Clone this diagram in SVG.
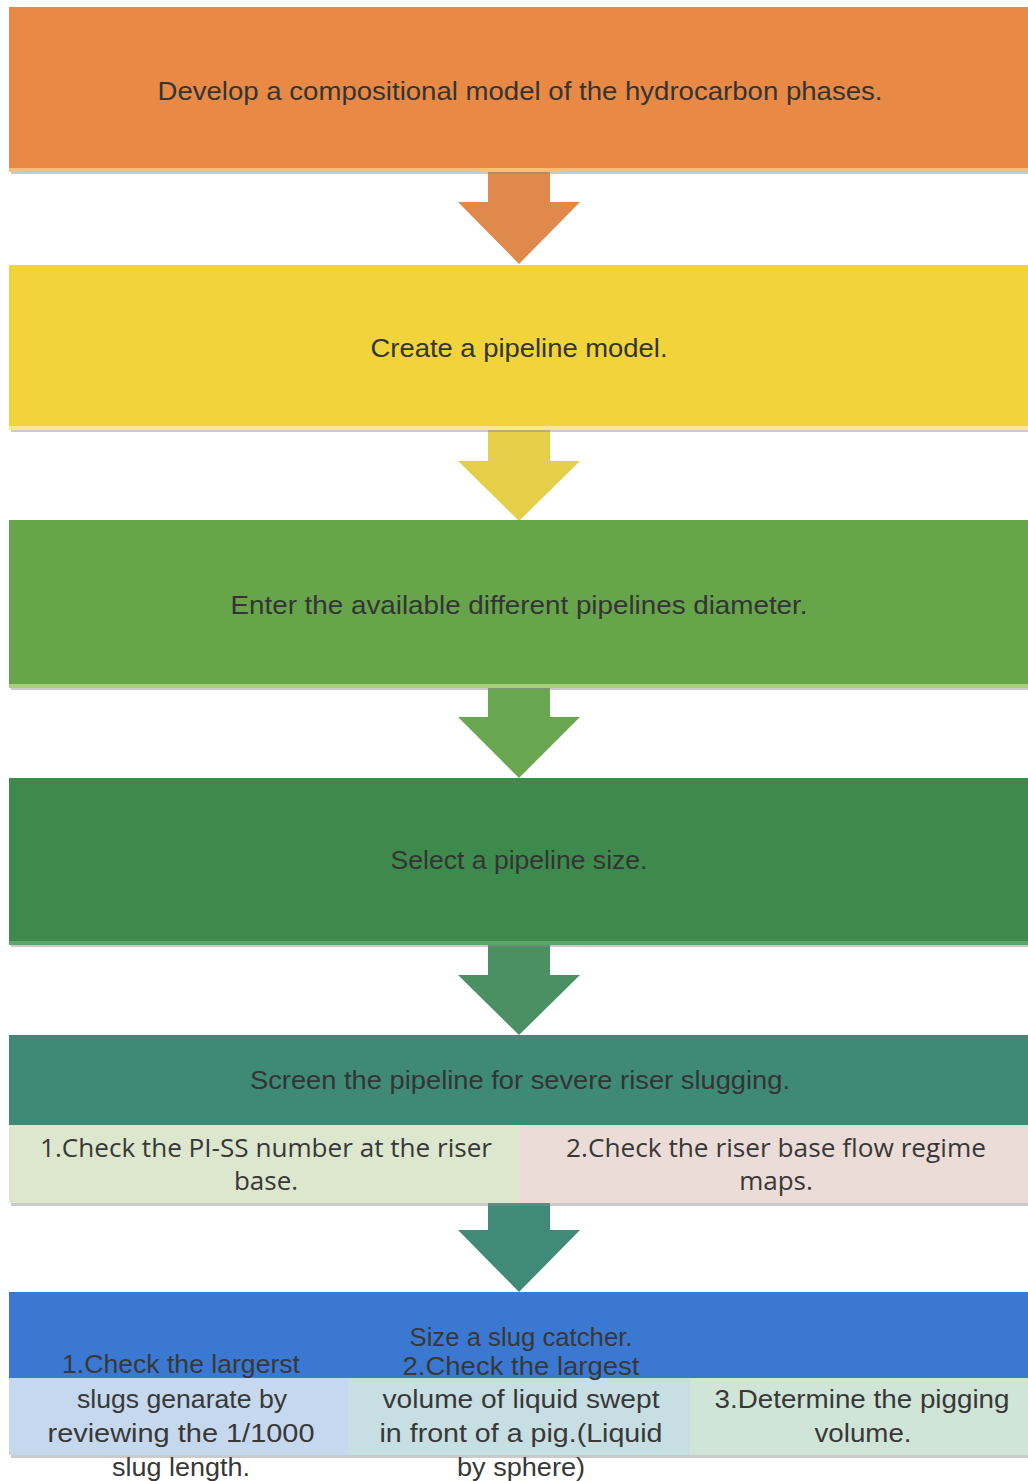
<svg xmlns="http://www.w3.org/2000/svg" width="1028" height="1481" viewBox="0 0 1028 1481">
<defs>
<style>
.t{font-family:"Liberation Sans","Noto Sans",Arial,sans-serif;font-size:25px;fill:#343434;text-anchor:middle}
.s{font-family:"Open Sans","Liberation Sans",Arial,sans-serif;font-size:26px;fill:#383838;text-anchor:middle}
.b{font-family:"Liberation Sans","Noto Sans",Arial,sans-serif;font-size:25px;fill:#383838;text-anchor:middle}
.sh{fill:#8a8a8a;opacity:0.45}
</style>
</defs>
<rect width="1028" height="1481" fill="#ffffff"/>

<g id="connectors">
<path d="M488,166 H550 V202 H580 L519,264 L458,202 H488 Z" fill="#e0894c"/>
<path d="M488,424 H550 V461 H580 L519,521 L458,461 H488 Z" fill="#e6cf48"/>
<path d="M488,682 H550 V717 H580 L519,778 L458,717 H488 Z" fill="#68a650"/>
<path d="M488,940 H550 V975 H580 L519,1035 L458,975 H488 Z" fill="#4b9062"/>
<path d="M488,1203 H550 V1230 H580 L519,1292 L458,1230 H488 Z" fill="#3f8a78"/>
</g>

<g id="n1">
<rect x="9" y="7" width="1019" height="165" fill="#e88a45"/>
<rect x="9" y="168" width="1019" height="4" fill="#f6c07a"/>
<rect x="11" y="172" width="1017" height="2" class="sh"/>
<text class="t" x="520" y="100" textLength="725" lengthAdjust="spacingAndGlyphs">Develop a compositional model of the hydrocarbon phases.</text>
</g>

<g id="n2">
<rect x="9" y="265" width="1019" height="165" fill="#f0d43a"/>
<rect x="9" y="426" width="1019" height="4" fill="#f8ea8a"/>
<rect x="11" y="430" width="1017" height="2" class="sh"/>
<text class="t" x="519" y="357" textLength="297" lengthAdjust="spacingAndGlyphs">Create a pipeline model.</text>
</g>

<g id="n3">
<rect x="9" y="520" width="1019" height="168" fill="#67a54b"/>
<rect x="9" y="684" width="1019" height="4" fill="#a8cf7a"/>
<rect x="11" y="688" width="1017" height="2" class="sh"/>
<text class="t" x="519" y="614" textLength="577" lengthAdjust="spacingAndGlyphs">Enter the available different pipelines diameter.</text>
</g>

<g id="n4">
<rect x="9" y="778" width="1019" height="167" fill="#3e8a4c"/>
<rect x="9" y="941" width="1019" height="4" fill="#5fa56a"/>
<rect x="11" y="945" width="1017" height="2" class="sh"/>
<text class="t" x="519" y="869" textLength="257" lengthAdjust="spacingAndGlyphs">Select a pipeline size.</text>
</g>

<g id="n5">
<rect x="9" y="1035" width="1019" height="90" fill="#3e8a76"/>
<text class="t" x="520" y="1089" textLength="540" lengthAdjust="spacingAndGlyphs">Screen the pipeline for severe riser slugging.</text>
<rect x="9" y="1125" width="511" height="78" fill="#dce7cd"/>
<rect x="520" y="1125" width="508" height="78" fill="#ecdcd7"/>
<rect x="11" y="1203" width="1017" height="3" class="sh"/>
<text class="s" x="266" y="1157" textLength="452" lengthAdjust="spacingAndGlyphs">1.Check the PI-SS number at the riser</text>
<text class="s" x="266" y="1190">base.</text>
<text class="s" x="776" y="1157" textLength="420" lengthAdjust="spacingAndGlyphs">2.Check the riser base flow regime</text>
<text class="s" x="776" y="1190">maps.</text>
</g>

<g id="n6">
<rect x="9" y="1292" width="1019" height="86" fill="#3b78d2"/>
<rect x="9" y="1378" width="339" height="77" fill="#c5d8ee"/>
<rect x="348" y="1378" width="342" height="77" fill="#c7dfe2"/>
<rect x="690" y="1378" width="338" height="77" fill="#d0e5d7"/>
<rect x="11" y="1455" width="1017" height="3" class="sh"/>
<text class="b" x="521" y="1346" font-size="24" textLength="223" lengthAdjust="spacingAndGlyphs">Size a slug catcher.</text>
<text class="b" x="181" y="1373" textLength="238" lengthAdjust="spacingAndGlyphs">1.Check the largerst</text>
<text class="b" x="182" y="1408" textLength="210" lengthAdjust="spacingAndGlyphs">slugs genarate by</text>
<text class="b" x="181" y="1442" textLength="267" lengthAdjust="spacingAndGlyphs">reviewing the  1/1000</text>
<text class="b" x="181" y="1476" textLength="138" lengthAdjust="spacingAndGlyphs">slug length.</text>
<text class="b" x="521" y="1375" textLength="237" lengthAdjust="spacingAndGlyphs">2.Check the  largest</text>
<text class="b" x="521" y="1408" textLength="277" lengthAdjust="spacingAndGlyphs">volume of liquid swept</text>
<text class="b" x="521" y="1442" textLength="283" lengthAdjust="spacingAndGlyphs">in front  of a pig.(Liquid</text>
<text class="b" x="521" y="1476" textLength="128" lengthAdjust="spacingAndGlyphs">by sphere)</text>
<text class="b" x="862" y="1408" textLength="295" lengthAdjust="spacingAndGlyphs">3.Determine the pigging</text>
<text class="b" x="863" y="1442" textLength="97" lengthAdjust="spacingAndGlyphs">volume.</text>
</g>
</svg>
